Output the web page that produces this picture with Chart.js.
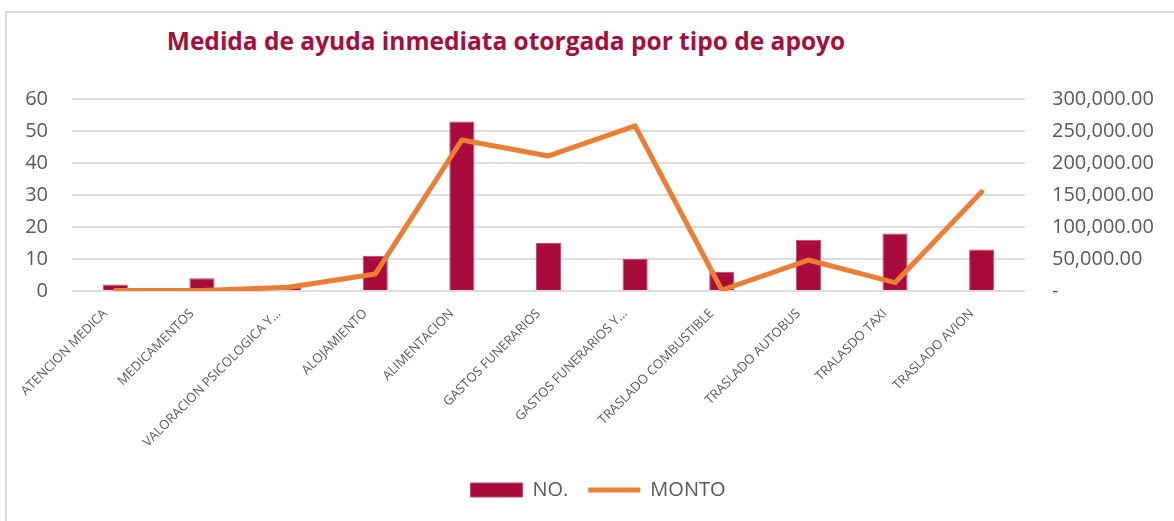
<!DOCTYPE html>
<html>
<head>
<meta charset="utf-8">
<script src="https://cdn.jsdelivr.net/npm/chart.js@4"></script>
<style>
    body { margin: 0; background: #fff; }
    #wrap { position: relative; width: 1174px; height: 521px; overflow: hidden; }
    #frame { position: absolute; left: 5px; top: 11px; width: 1300px; height: 700px; border: 2px solid #dadada; box-sizing: border-box; }
    #title { position: absolute; left: 0; top: 24px; width: 1012px; text-align: center; font: bold 24.5px 'Open Sans', sans-serif; color: #a50f3c; }
    canvas { position: absolute; left: 0; top: 0; }
</style>
</head>
<body>
<div id="wrap">
    <div id="frame"></div>
    <div id="title">Medida de ayuda inmediata otorgada por tipo de apoyo</div>
    <canvas id="chart" width="1174" height="521"></canvas>
</div>
<script>
const categories = [
    'ATENCION MEDICA', 'MEDICAMENTOS', 'VALORACION PSICOLOGICA Y...', 'ALOJAMIENTO',
    'ALIMENTACION', 'GASTOS FUNERARIOS', 'GASTOS FUNERARIOS Y...', 'TRASLADO COMBUSTIBLE',
    'TRASLADO AUTOBUS', 'TRALASDO TAXI', 'TRASLADO AVION'
];
const noValues = [2, 4, 1, 11, 53, 15, 10, 6, 16, 18, 13];
const montoValues = [800, 600, 5800, 26500, 236000, 211000, 258000, 1500, 48400, 13000, 155000];
const leftTicks = [0, 60, 10];          // min, max, step
const rightTicks = [0, 300000, 50000];  // min, max, step

const textColor = '#595959';
const gridColor = '#dcdcdc';

const ctx = document.getElementById('chart').getContext('2d');
new Chart(ctx, {
    type: 'bar',
    data: {
        labels: categories,
        datasets: [
            {
                label: 'NO.',
                data: noValues,
                backgroundColor: '#a80b3c',
                borderColor: '#c0496d',
                borderWidth: 1,
                barPercentage: 0.29,
                categoryPercentage: 1,
                yAxisID: 'y',
                order: 1,
                pointStyle: 'rect'
            },
            {
                type: 'line',
                label: 'MONTO',
                data: montoValues,
                borderColor: '#ed7d31',
                backgroundColor: '#ed7d31',
                borderWidth: 5,
                borderJoinStyle: 'round',
                borderCapStyle: 'round',
                tension: 0,
                pointRadius: 0,
                yAxisID: 'y1',
                order: 0,
                pointStyle: 'line'
            }
        ]
    },
    options: {
        responsive: false,
        animation: false,
        layout: { padding: { left: 22, right: 0, top: 99, bottom: 11 } },
        plugins: {
            title: { display: false },
            tooltip: { enabled: false },
            legend: {
                position: 'bottom',
                labels: {
                    usePointStyle: true,
                    pointStyleWidth: 52,
                    boxHeight: 14,
                    padding: 20,
                    color: textColor,
                    font: { family: 'Open Sans', size: 20 },
                    sort: (a, b) => a.datasetIndex - b.datasetIndex
                }
            }
        },
        scales: {
            x: {
                grid: { display: false },
                border: { display: false },
                ticks: {
                    autoSkip: false,
                    minRotation: 45,
                    maxRotation: 45,
                    padding: 7,
                    labelOffset: -10,
                    color: textColor,
                    font: { family: 'Open Sans', size: 13 }
                },
                afterFit: scale => { scale.height = 169; }
            },
            y: {
                position: 'left',
                min: leftTicks[0],
                max: leftTicks[1],
                grid: { color: gridColor, lineWidth: 2, drawTicks: false },
                border: { display: false },
                ticks: {
                    stepSize: leftTicks[2],
                    padding: 24,
                    color: textColor,
                    font: { family: 'Open Sans', size: 20 }
                },
                afterFit: scale => { scale.width = 50; }
            },
            y1: {
                position: 'right',
                min: rightTicks[0],
                max: rightTicks[1],
                grid: { display: false, drawTicks: false },
                border: { display: false },
                ticks: {
                    stepSize: rightTicks[2],
                    padding: 27,
                    color: textColor,
                    font: { family: 'Open Sans', size: 20 },
                    callback: v => v === 0 ? '-' : v.toLocaleString('en-US', { minimumFractionDigits: 2, maximumFractionDigits: 2 })
                },
                afterFit: scale => { scale.width = 149; }
            }
        }
    }
});
</script>
</body>
</html>
